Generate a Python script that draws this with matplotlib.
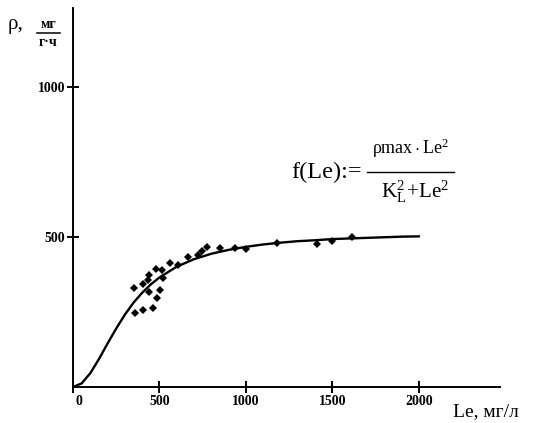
import matplotlib.pyplot as plt
from matplotlib.transforms import ScaledTranslation

# measured points (Le, mg/l ; rho, mg/(g*h))
le_obs = [353, 405, 434, 439, 480, 514, 520, 503, 486, 462, 405, 358, 439,
          561, 607, 665, 723, 746, 775, 850, 936, 1000, 1179, 1410, 1497, 1613]
rho_obs = [330, 343, 357, 373, 393, 390, 363, 323, 297, 263, 257, 247, 317,
           413, 407, 433, 440, 453, 467, 463, 463, 460, 480, 477, 487, 500]

# fitted curve
le_fit = [0, 50, 100, 150, 200, 250, 300, 350, 400, 450, 500, 600, 700, 800,
          900, 1000, 1100, 1200, 1300, 1400, 1500, 1600, 1700, 1800, 1900, 2000]
rho_fit = [0, 12, 46, 93, 145, 195, 241, 281, 314, 342, 365, 401, 426, 444,
           457, 467, 475, 481, 486, 489, 493, 495, 497, 499, 501, 502]

x_ticks = [0, 500, 1000, 1500, 2000]
y_ticks = [500, 1000]

plt.rcParams['font.family'] = ['Liberation Serif', 'DejaVu Serif']
plt.rcParams['mathtext.fontset'] = 'custom'
plt.rcParams['mathtext.rm'] = 'Liberation Serif'
plt.rcParams['mathtext.it'] = 'Liberation Serif:italic'

W, H = 534, 423
fig = plt.figure(figsize=(W / 100, H / 100), dpi=100)
ax = fig.add_axes([73 / W, 1 - 387 / H, 427 / W, 379 / H])

ax.plot(le_fit, rho_fit, color='black', lw=1.7)
ax.plot(le_obs, rho_obs, 'D', color='black', ms=3.8, mew=0)

ax.set_xlim(0, 2470)
ax.set_ylim(0, 1263)
for s in ['top', 'right']:
    ax.spines[s].set_visible(False)
for s in ['left', 'bottom']:
    ax.spines[s].set_linewidth(1.4)

ax.set_xticks(x_ticks)
ax.set_yticks(y_ticks)
ax.tick_params(direction='inout', length=9, width=1.4, labelsize=10, pad=1)
for t in ax.get_xticklabels() + ax.get_yticklabels():
    t.set_fontweight('bold')
lbl0 = ax.get_xticklabels()[0]
lbl0.set_transform(lbl0.get_transform() + ScaledTranslation(6 / 100, 0, fig.dpi_scale_trans))


def ftext(x, y, s, **kw):
    fig.text(x / W, 1 - y / H, s, **kw)


# axis labels
ftext(8, 25, 'ρ,', fontsize=15, va='center', ha='left')
ftext(48, 25, 'мг', fontsize=10, va='center', ha='center', fontweight='bold')
ftext(48, 42, 'г·ч', fontsize=10, va='center', ha='center', fontweight='bold')
fig.add_artist(plt.Line2D([37 / W, 60 / W], [1 - 33 / H, 1 - 33 / H], color='black', lw=1.1))
ftext(453, 412, 'Le, мг/л', fontsize=14, va='center', ha='left')

# formula
ftext(327, 172, 'f(Le):=', fontsize=17.5, va='center', ha='center')
ftext(410, 148, r'$\mathrm{ρmax\cdot Le}^{2}$', fontsize=13, va='center', ha='center')
ftext(415, 192, r'$\mathrm{K}_{\mathrm{L}}^{2}\!+\!\mathrm{Le}^{2}$', fontsize=15, va='center', ha='center')
fig.add_artist(plt.Line2D([367 / W, 454 / W], [1 - 172 / H, 1 - 172 / H], color='black', lw=1.0))

fig.savefig('out.png', dpi=100)
